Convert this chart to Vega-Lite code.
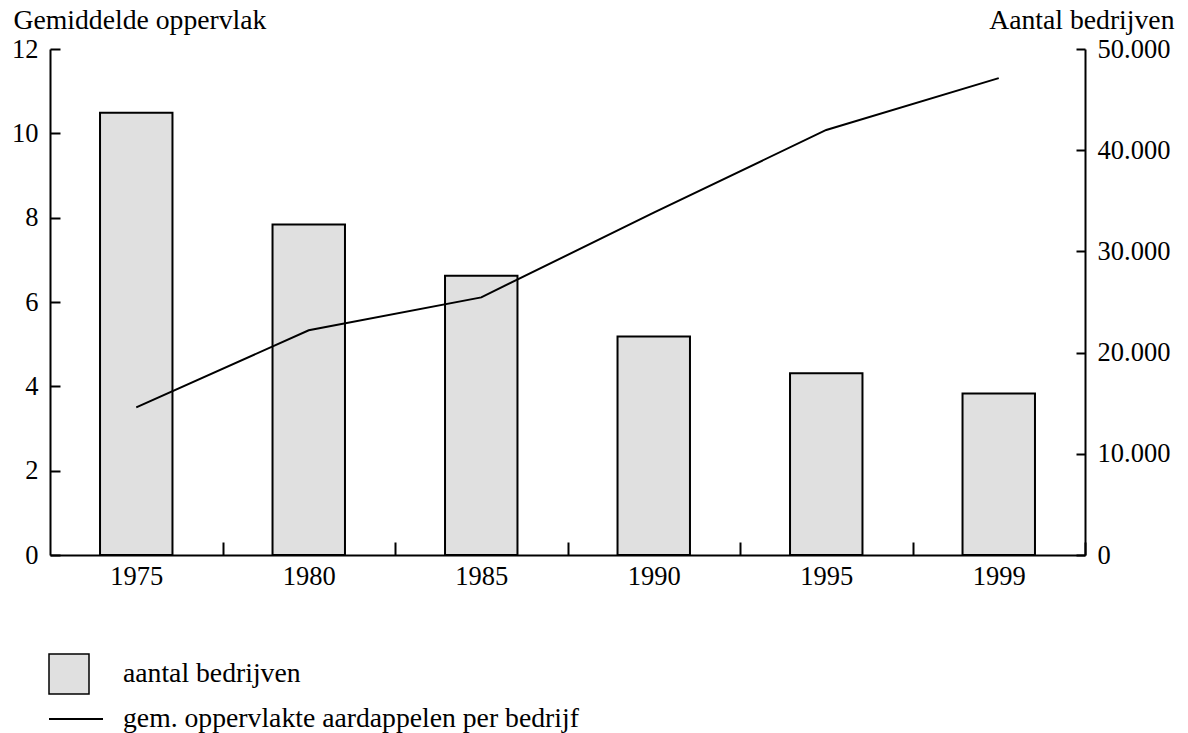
{
  "$schema": "https://vega.github.io/schema/vega-lite/v6.json",
  "width": 1035,
  "height": 506,
  "autosize": {"type": "none"},
  "padding": {"left": 50, "top": 49, "right": 103, "bottom": 178},
  "background": "white",
  "config": {
    "view": {"stroke": null},
    "font": "Liberation Serif, Times New Roman, serif",
    "axis": {
      "labelFont": "Liberation Serif, Times New Roman, serif",
      "titleFont": "Liberation Serif, Times New Roman, serif",
      "labelColor": "black",
      "titleColor": "black",
      "domainColor": "black",
      "tickColor": "black",
      "domainWidth": 2,
      "tickWidth": 2,
      "grid": false,
      "labelFontSize": 26.5,
      "titleFontSize": 27.7,
      "titleFontWeight": "normal"
    },
    "legend": {
      "labelFont": "Liberation Serif, Times New Roman, serif",
      "labelColor": "black",
      "labelFontSize": 27.7,
      "labelLimit": 0,
      "padding": 0
    }
  },
  "data": {
    "values": [
      {"year": "1975", "bedrijven": 43700, "opp": 3.5},
      {"year": "1980", "bedrijven": 32650, "opp": 5.33},
      {"year": "1985", "bedrijven": 27600, "opp": 6.11},
      {"year": "1990", "bedrijven": 21600, "opp": 8.12},
      {"year": "1995", "bedrijven": 17950, "opp": 10.08},
      {"year": "1999", "bedrijven": 15950, "opp": 11.31}
    ]
  },
  "encoding": {
    "x": {
      "field": "year",
      "type": "ordinal",
      "scale": {"paddingInner": 0.58, "paddingOuter": 0.29},
      "axis": {
        "title": null,
        "labelAngle": 0,
        "tickOffset": 86.25,
        "labelOffset": -86.25,
        "tickSize": -13,
        "labelPadding": 21,
        "labelBaseline": "top"
      }
    }
  },
  "layer": [
    {
      "mark": {"type": "bar", "stroke": "black", "strokeWidth": 2},
      "encoding": {
        "y": {
          "field": "bedrijven",
          "type": "quantitative",
          "scale": {"domain": [0, 50000], "nice": false},
          "axis": {
            "orient": "right",
            "values": [0, 10000, 20000, 30000, 40000, 50000],
            "labelExpr": "replace(format(datum.value, ','), ',', '.')",
            "tickSize": -9,
            "labelPadding": 21,
            "title": "Aantal bedrijven",
            "titleAngle": 0,
            "titleAlign": "right",
            "titleBaseline": "alphabetic",
            "titleX": 89,
            "titleY": -21
          }
        },
        "fill": {
          "datum": "aantal bedrijven",
          "scale": {"domain": ["aantal bedrijven"], "range": ["#e0e0e0"]},
          "legend": {
            "orient": "none",
            "legendX": -2,
            "legendY": 604,
            "title": null,
            "symbolType": "square",
            "symbolSize": 1600,
            "symbolStrokeColor": "black",
            "symbolStrokeWidth": 1.5,
            "symbolOpacity": 1,
            "labelOffset": 33
          }
        }
      }
    },
    {
      "mark": {"type": "line", "strokeWidth": 2},
      "encoding": {
        "y": {
          "field": "opp",
          "type": "quantitative",
          "scale": {"domain": [0, 12], "nice": false},
          "axis": {
            "orient": "left",
            "values": [0, 2, 4, 6, 8, 10, 12],
            "tickSize": -10,
            "labelPadding": 22,
            "title": "Gemiddelde oppervlak",
            "titleAngle": 0,
            "titleAlign": "left",
            "titleBaseline": "alphabetic",
            "titleX": -37,
            "titleY": -21
          }
        },
        "stroke": {
          "datum": "gem. oppervlakte aardappelen per bedrijf",
          "scale": {"domain": ["gem. oppervlakte aardappelen per bedrijf"], "range": ["black"]},
          "legend": {
            "orient": "none",
            "legendX": -2,
            "legendY": 642,
            "title": null,
            "symbolType": "stroke",
            "symbolSize": 2916,
            "symbolStrokeWidth": 2,
            "labelOffset": 19
          }
        }
      }
    }
  ],
  "resolve": {"scale": {"y": "independent"}}
}
